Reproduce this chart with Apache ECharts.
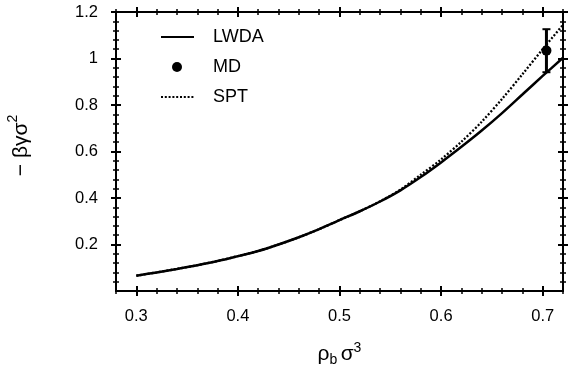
<!DOCTYPE html>
<html><head><meta charset="utf-8">
<script src="https://cdn.jsdelivr.net/npm/echarts@6/dist/echarts.min.js"></script>
<style>html,body{margin:0;padding:0;background:#fff}#c{width:568px;height:377px}</style>
</head><body><div id="c"></div>
<script>
// Data
const rhoLWDA = [0.30,0.32,0.34,0.36,0.38,0.40,0.42,0.44,0.46,0.48,0.50,0.52,0.54,0.56,0.58,0.60,0.62,0.64,0.66,0.68,0.70,0.72];
const gammaLWDA = [0.066,0.080,0.095,0.111,0.129,0.150,0.172,0.200,0.231,0.266,0.305,0.343,0.385,0.433,0.490,0.553,0.620,0.690,0.765,0.845,0.925,1.003];
const rhoSPT = [0.30,0.32,0.34,0.36,0.38,0.40,0.42,0.44,0.46,0.48,0.50,0.52,0.54,0.56,0.58,0.60,0.62,0.64,0.66,0.68,0.70,0.72];
const gammaSPT = [0.066,0.080,0.095,0.111,0.129,0.150,0.172,0.200,0.231,0.266,0.305,0.343,0.386,0.436,0.500,0.566,0.642,0.728,0.826,0.932,1.040,1.145];
const mdRho = [0.7037];
const mdGamma = [1.034];
const mdErrLow = [0.941];
const mdErrHigh = [1.126];
const xMajor = [0.3,0.4,0.5,0.6,0.7];
const yMajor = [0.2,0.4,0.6,0.8,1,1.2];
const xRange = [0.28, 0.72];
const yRange = [0, 1.2];
const xMinorStep = 0.02;
const yMinorStep = 0.04;
</script>
<script>
const font = 'Liberation Sans, Arial, Helvetica, sans-serif';
const zip = (a,b) => a.map((v,i)=>[v,b[i]]);
const xMinor = [];
for (let v=xRange[0]; v<=xRange[1]+1e-9; v+=xMinorStep){ const r=+v.toFixed(3); if(!xMajor.some(m=>Math.abs(m-r)<1e-9)) xMinor.push(r); }
const yMinor = [];
for (let v=yRange[0]+yMinorStep; v<=yRange[1]+1e-9; v+=yMinorStep){ const r=+v.toFixed(3); if(!yMajor.some(m=>Math.abs(m-r)<1e-9)) yMinor.push(r); }

function xAx(pos, inside, len, vals, labels, w){
  return {type:'value', position:pos, min:xRange[0], max:xRange[1],
    axisLine:{show:true, onZero:false, lineStyle:{color:'#000', width:2}},
    axisTick:{show:true, inside:inside, length:len, customValues:vals, lineStyle:{color:'#000', width:w}},
    splitLine:{show:false},
    axisLabel:{show:labels, customValues:xMajor, color:'#000', fontSize:16.5, fontFamily:font, margin:17,
      formatter:v=>String(+(+v).toFixed(2))},
    name: labels && pos==='bottom' ? '{a|ρ}{sub|b} {a|σ}{sup|3}' : '',
    nameLocation:'middle', nameGap:50,
    nameTextStyle:{lineHeight:26, rich:{
      a:{fontSize:21, fontFamily:font, color:'#000', lineHeight:26},
      sub:{fontSize:14, fontFamily:font, color:'#000', verticalAlign:'bottom', lineHeight:14},
      sup:{fontSize:14, fontFamily:font, color:'#000', verticalAlign:'top', lineHeight:12}
    }}
  };
}
function yAx(pos, inside, len, vals, labels, w){
  return {type:'value', position:pos, min:yRange[0], max:yRange[1],
    axisLine:{show:true, onZero:false, lineStyle:{color:'#000', width:2}},
    axisTick:{show:true, inside:inside, length:len, customValues:vals, lineStyle:{color:'#000', width:w}},
    splitLine:{show:false},
    axisLabel:{show:labels, customValues:yMajor, color:'#000', fontSize:16.5, fontFamily:font, margin:18,
      formatter:v=>String(+(+v).toFixed(2))},
    name: labels && pos==='left' ? '{a|− βγσ}{sup|2}' : '',
    nameLocation:'middle', nameGap:80, nameRotate:90,
    nameTextStyle:{lineHeight:30, padding:[0,0,0,12], rich:{
      a:{fontSize:21, fontFamily:font, color:'#000', lineHeight:30},
      sup:{fontSize:14, fontFamily:font, color:'#000', verticalAlign:'top', lineHeight:13}
    }}
  };
}

const xAxes = [
  xAx('bottom', false, 5, xMajor, true, 2),
  xAx('bottom', true, 5, xMajor, false, 2),
  xAx('bottom', false, 3, xMinor, false, 1.5),
  xAx('bottom', true, 3, xMinor, false, 1.5),
  xAx('top', false, 5, xMajor, false, 2),
  xAx('top', true, 5, xMajor, false, 2),
  xAx('top', false, 3, xMinor, false, 1.5),
  xAx('top', true, 3, xMinor, false, 1.5)
];
const yAxes = [
  yAx('left', false, 5, yMajor, true, 2),
  yAx('left', true, 5, yMajor, false, 2),
  yAx('left', false, 3, yMinor, false, 1.5),
  yAx('left', true, 3, yMinor, false, 1.5),
  yAx('right', false, 5, yMajor, false, 2),
  yAx('right', true, 5, yMajor, false, 2),
  yAx('right', false, 3, yMinor, false, 1.5),
  yAx('right', true, 3, yMinor, false, 1.5)
];

const chart = echarts.init(document.getElementById('c'), null, {renderer:'canvas'});
const legendText = {color:'#000', fontSize:18, fontFamily:font, padding:[0,0,0,14]};
chart.setOption({
  animation:false,
  backgroundColor:'#fff',
  grid:{left:116, right:5, top:12, bottom:86, containLabel:false, outerBoundsMode:'none'},
  xAxis:xAxes,
  yAxis:yAxes,
  legend:[
    {data:['LWDA'], left:160, top:28, padding:0, itemWidth:33, itemHeight:10, textStyle:legendText,
      itemStyle:{opacity:0}, lineStyle:{opacity:1}},
    {data:['MD'], left:172, top:58, padding:0, itemWidth:10, itemHeight:10, icon:'circle',
      textStyle:Object.assign({}, legendText, {padding:[0,0,0,26]})},
    {data:['SPT'], left:160, top:88, padding:0, itemWidth:33, itemHeight:10, textStyle:legendText,
      itemStyle:{opacity:0}, lineStyle:{opacity:1}}
  ],
  series:[
    {name:'LWDA', type:'line', data:zip(rhoLWDA,gammaLWDA), smooth:0.3, symbol:'none',
      lineStyle:{color:'#000', width:2.5}, itemStyle:{color:'#000'}, z:3},
    {name:'SPT', type:'line', data:zip(rhoSPT,gammaSPT), smooth:0.3, symbol:'none',
      lineStyle:{color:'#000', width:2.3, type:[2,1.8]}, itemStyle:{color:'#000'}, z:3},
    {name:'MD', type:'scatter', data:zip(mdRho,mdGamma), symbol:'circle', symbolSize:10,
      itemStyle:{color:'#000', opacity:1}, z:5},
    {name:'MDerr', type:'custom', data:mdRho.map((r,i)=>[r,mdErrLow[i],mdErrHigh[i]]),
      renderItem:(params, api)=>{
        const lo = api.coord([api.value(0), api.value(1)]);
        const hi = api.coord([api.value(0), api.value(2)]);
        const c = 4;
        return {type:'group', children:[
          {type:'line', shape:{x1:lo[0],y1:lo[1],x2:hi[0],y2:hi[1]}, style:{stroke:'#000', lineWidth:3}},
          {type:'line', shape:{x1:lo[0]-c,y1:lo[1],x2:lo[0]+c,y2:lo[1]}, style:{stroke:'#000', lineWidth:2}},
          {type:'line', shape:{x1:hi[0]-c,y1:hi[1],x2:hi[0]+c,y2:hi[1]}, style:{stroke:'#000', lineWidth:2}}
        ]};
      }, z:4}
  ]
});
</script>
</body></html>
